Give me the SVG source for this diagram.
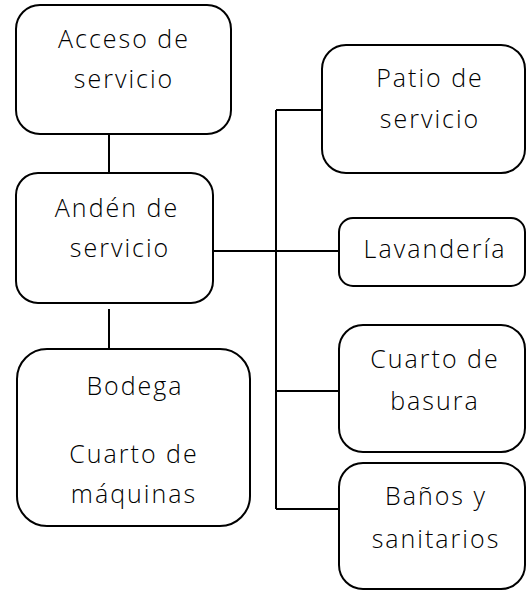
<svg xmlns="http://www.w3.org/2000/svg" width="527" height="590" viewBox="0 0 527 590">
<style>
.box{fill:#fff;stroke:#000;stroke-width:2}
.ln{stroke:#000;stroke-width:2;fill:none}
text{font-family:"Open Sans","DejaVu Sans",sans-serif;font-weight:300;font-size:25px;fill:#000;text-anchor:middle;letter-spacing:2px}
</style>
<rect width="527" height="590" fill="#fff"/>
<g id="connectors">
<line class="ln" x1="109" y1="134" x2="109" y2="173"/>
<line class="ln" x1="109" y1="309" x2="109" y2="352"/>
<line class="ln" x1="213" y1="251" x2="339" y2="251"/>
<line class="ln" x1="276" y1="110" x2="276" y2="509"/>
<line class="ln" x1="276" y1="110" x2="322" y2="110"/>
<line class="ln" x1="276" y1="391" x2="339" y2="391"/>
<line class="ln" x1="276" y1="509" x2="339" y2="509"/>
</g>
<g id="acceso">
<rect class="box" x="16" y="5" width="215" height="129" rx="24"/>
<text x="124" y="48">Acceso de</text>
<text x="124" y="88">servicio</text>
</g>
<g id="anden">
<rect class="box" x="16" y="173" width="197" height="130" rx="22"/>
<text x="117" y="217">Andén de</text>
<text x="120" y="257">servicio</text>
</g>
<g id="bodega">
<rect class="box" x="17" y="349" width="233" height="177" rx="30"/>
<text x="135" y="395">Bodega</text>
<text x="134" y="463">Cuarto de</text>
<text x="134" y="503">máquinas</text>
</g>
<g id="patio">
<rect class="box" x="322" y="45" width="203" height="128" rx="24"/>
<text x="430" y="87">Patio de</text>
<text x="430" y="128">servicio</text>
</g>
<g id="lavanderia">
<rect class="box" x="339" y="218" width="186" height="68" rx="14"/>
<text x="435" y="258">Lavandería</text>
</g>
<g id="basura">
<rect class="box" x="339" y="325" width="186" height="127" rx="24"/>
<text x="435" y="368">Cuarto de</text>
<text x="435" y="410">basura</text>
</g>
<g id="banos">
<rect class="box" x="339" y="463" width="186" height="126" rx="24"/>
<text x="436" y="505">Baños y</text>
<text x="436" y="548">sanitarios</text>
</g>
</svg>
